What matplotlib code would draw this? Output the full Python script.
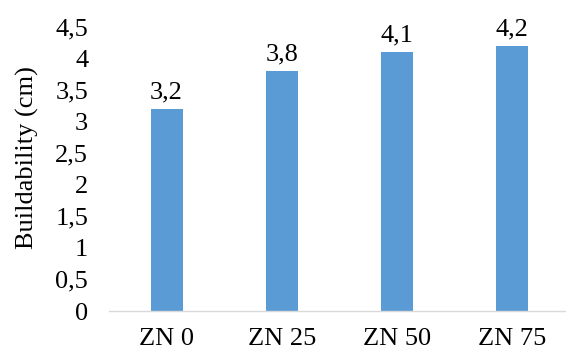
import matplotlib.pyplot as plt

categories = ["ZN 0", "ZN 25", "ZN 50", "ZN 75"]
values = [3.2, 3.8, 4.1, 4.2]
value_labels = ["3,2", "3,8", "4,1", "4,2"]
yticks = [0, 0.5, 1, 1.5, 2, 2.5, 3, 3.5, 4, 4.5]
ytick_labels = ["0", "0,5", "1", "1,5", "2", "2,5", "3", "3,5", "4", "4,5"]

plt.rcParams['font.family'] = ['Liberation Serif', 'DejaVu Serif']
fs = 19

fig = plt.figure(figsize=(5.66, 3.55), dpi=100)
ax = fig.add_axes([0.1926, 0.1239, 0.8074, 0.801])

x = range(len(categories))
bars = ax.bar(x, values, width=0.278, color='#5B9BD5')
for b, lab in zip(bars, value_labels):
    ax.annotate(lab, (b.get_x() + b.get_width() / 2, b.get_height()),
                xytext=(0, 4), textcoords='offset points',
                ha='center', va='bottom', fontsize=fs)

ax.set_xlim(-0.5, 3.47)
ax.set_ylim(0, 4.5)
ax.set_xticks(list(x))
ax.set_xticklabels(categories, fontsize=fs)
ax.set_yticks(yticks)
ax.set_yticklabels(ytick_labels, fontsize=fs)
ax.tick_params(axis='both', length=0)
ax.tick_params(axis='y', pad=15)
ax.tick_params(axis='x', pad=12)

# y axis title placed like the original
fig.text(27 / 566, 1 - 158 / 355, "Buildability (cm)", rotation=90,
         ha='center', va='center', fontsize=fs)

for s in ['top', 'right', 'left']:
    ax.spines[s].set_visible(False)
ax.spines['bottom'].set_color('#D9D9D9')
ax.spines['bottom'].set_linewidth(1)

fig.savefig("out.png", dpi=100)
